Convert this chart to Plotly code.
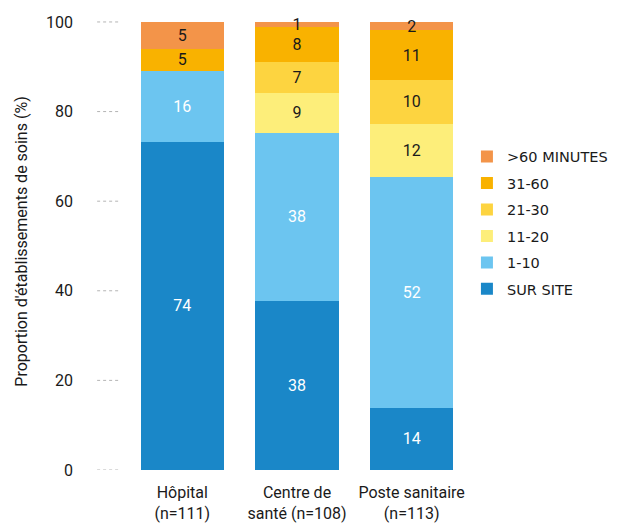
import plotly.graph_objects as go

categories = ["Hôpital<br>(n=111)", "Centre de<br>santé (n=108)", "Poste sanitaire<br>(n=113)"]

# bar heights (%)
sur_site = [73.3, 37.8, 13.9]
min_1_10 = [15.8, 37.4, 51.5]
min_11_20 = [0, 9.0, 11.9]
min_21_30 = [0, 6.9, 9.8]
min_31_60 = [4.9, 7.8, 11.0]
min_60_plus = [6.0, 1.1, 1.9]

# printed labels (rounded %)
sur_site_lbl = ["74", "38", "14"]
min_1_10_lbl = ["16", "38", "52"]
min_11_20_lbl = ["", "9", "12"]
min_21_30_lbl = ["", "7", "10"]
min_31_60_lbl = ["5", "8", "11"]
min_60_plus_lbl = ["5", "1", "2"]

series_names = ["SUR SITE", "1-10", "11-20", "21-30", "31-60", ">60 MINUTES"]
series_values = [sur_site, min_1_10, min_11_20, min_21_30, min_31_60, min_60_plus]
series_labels = [sur_site_lbl, min_1_10_lbl, min_11_20_lbl, min_21_30_lbl, min_31_60_lbl, min_60_plus_lbl]
colors = ["#1a87c8", "#6cc5f0", "#fdee7a", "#fdd440", "#f9b200", "#f39449"]
text_colors = ["white", "white", "#1a1a1a", "#1a1a1a", "#1a1a1a", "#1a1a1a"]

y_ticks = [0, 20, 40, 60, 80, 100]

FONT = "Roboto"

fig = go.Figure()
n = len(series_names)
for i, (name, vals, lbls, col, tcol) in enumerate(zip(series_names, series_values, series_labels, colors, text_colors)):
    fig.add_trace(go.Bar(
        x=categories, y=vals, name=name, text=lbls,
        marker=dict(color=col, line=dict(width=0)),
        textposition="inside", insidetextanchor="middle", constraintext="none",
        textangle=0, textfont=dict(color=tcol, size=16, family=FONT),
        legendgroup=name, legendrank=n - i,
    ))

for v in y_ticks:
    fig.add_shape(type="line", xref="paper", yref="y", x0=-0.081, x1=-0.012, y0=v, y1=v,
                  line=dict(color="#b4b4b4", width=1, dash="dot"))

# the page body has an 8px margin, so the figure is 8px smaller and margins are offset
fig.update_layout(
    barmode="stack", bargap=0.276,
    width=618, height=515,
    margin=dict(l=117, r=157, t=5, b=53, autoexpand=False),
    paper_bgcolor="white", plot_bgcolor="white",
    font=dict(family=FONT, size=16, color="#1a1a1a"),
    showlegend=True,
    legend=dict(x=0.994, xanchor="left", y=0.7206, yanchor="top", traceorder="grouped",
                tracegroupgap=4.6, font=dict(size=14.5, family="DejaVu Sans", color="#1a1a1a")),
    xaxis=dict(showline=False, showgrid=False, ticks="", tickfont=dict(size=16),
               automargin=False, ticklabelstandoff=11),
    yaxis=dict(range=[0, 102], tickvals=y_ticks, showgrid=False, zeroline=False, showline=False,
               ticks="", ticklabelstandoff=51, tickfont=dict(size=16), automargin=False,
               title=dict(text="Proportion d'établissements de soins (%)", font=dict(size=16), standoff=14)),
)

fig.write_html("out.html")
